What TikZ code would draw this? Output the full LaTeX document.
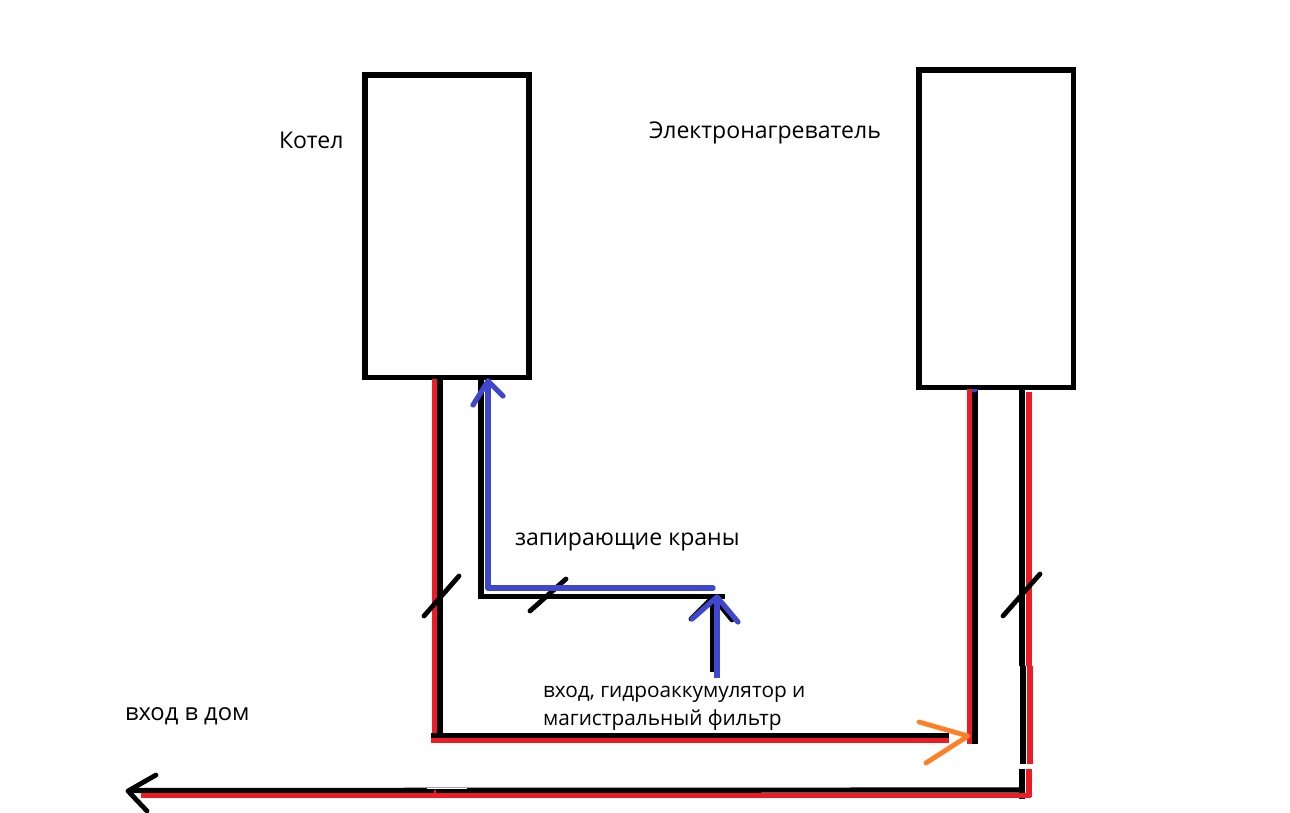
\documentclass[tikz,border=0pt]{standalone}
\usepackage{fontspec}
\setmainfont{Open Sans}
\definecolor{pred}{HTML}{ED1C24}
\definecolor{pblue}{HTML}{3F48CC}
\definecolor{porange}{HTML}{FF7F27}
\tikzset{
  x=0.75pt,y=-0.75pt,
  boxn/.style={draw=black,line width=3.9pt,fill=white,minimum width=0pt,inner sep=0pt,outer sep=0pt},
  blk/.style={draw=black,line width=3.9pt},
  redl/.style={draw=pred,line width=3.9pt},
  blu/.style={draw=pblue,line width=3.9pt,line cap=round,line join=round},
  org/.style={draw=porange,line width=3.6pt,line cap=round,line join=round},
  mark line/.style={draw=black,line width=3.6pt,line cap=round,line join=round},
  lbl/.style={anchor=west,inner sep=0pt,outer sep=0pt,font=\fontsize{17.3pt}{20pt}\selectfont,text=black},
  lblb/.style={anchor=west,inner sep=0pt,outer sep=0pt,font=\fontsize{15.6pt}{18pt}\selectfont,text=black}
}
\begin{document}
\begin{tikzpicture}
\useasboundingbox[fill=white] (0,0) rectangle (1290,813);
% boxes
\node[boxn,minimum width=123pt,minimum height=227pt,anchor=north west] (kotel) at (365,75) {};
\node[boxn,minimum width=116pt,minimum height=238pt,anchor=north west] (heater) at (919,70) {};
% labels
\node[lbl] (t1) at (279,140) {Котел};
\node[lbl] (t2) at (649,133) {Электронагреватель};
\node[lbl] (t3) at (515,542) {запирающие краны};
\node[lblb] (t4) at (543,694) {вход, гидроаккумулятор и};
\node[lblb] (t5) at (543,720) {магистральный фильтр};
\node[lbl,font=\fontsize{17.8pt}{20pt}\selectfont] (t6) at (125,716) {вход в дом};
% coordinates
\coordinate (a1) at (435,379); \coordinate (a2) at (435,742);
\coordinate (a3) at (440,379); \coordinate (a4) at (440,737);
\coordinate (h1) at (431,740.5); \coordinate (h2) at (949,740.5);
\coordinate (h3) at (431,735.5); \coordinate (h4) at (949,735.5);
\coordinate (b1) at (970.5,389); \coordinate (b2) at (970.5,744);
\coordinate (b3) at (975,389); \coordinate (b4) at (975,744);
\coordinate (c1) at (1022,389); \coordinate (c2) at (1022,666);
\coordinate (c3) at (1023,666); \coordinate (c4) at (1023,764);
\coordinate (c5) at (1022,769); \coordinate (c6) at (1022,799);
\coordinate (d1) at (1029,392); \coordinate (d2) at (1029,666);
\coordinate (d3) at (1030,666); \coordinate (d4) at (1030,764);
\coordinate (d5) at (1029,769); \coordinate (d6) at (1029,797);
\coordinate (e1) at (130,790.5); \coordinate (e2) at (1022,790);
\coordinate (f1) at (141,795.5); \coordinate (f2) at (1031,795.5);
\coordinate (k1) at (156,775); \coordinate (k2) at (128,791); \coordinate (k3) at (147,811);
\coordinate (g1) at (481,379); \coordinate (g2) at (481,596.5); \coordinate (g3) at (725,596.5);
\coordinate (s1) at (713,672); \coordinate (s2) at (713,597);
\coordinate (s3) at (691,619); \coordinate (s4) at (732,620);
\coordinate (u1) at (488,381); \coordinate (u2) at (488,588); \coordinate (u3) at (713,588);
\coordinate (u4) at (473,405); \coordinate (u5) at (503,396);
\coordinate (v1) at (717,678); \coordinate (v2) at (717,597);
\coordinate (v3) at (692,619); \coordinate (v4) at (738,622);
\coordinate (m1) at (424,616); \coordinate (m2) at (459,576);
\coordinate (m3) at (530,611); \coordinate (m4) at (566,579);
\coordinate (m5) at (1003,616); \coordinate (m6) at (1040,574);
\coordinate (o1) at (919,722); \coordinate (o2) at (968,736); \coordinate (o3) at (926,763);
% left pipe
\draw[redl] (a1) -- (a2);
\draw[blk] (a3) -- (a4);
% long horizontal
\draw[blk] (h3) -- (h4);
\draw[redl] (h1) -- (h2);
% heater pipes
\draw[redl,line width=4.6pt] (b1) -- (b2);
\draw[blk,line width=4.6pt] (b3) -- (b4);
\fill[pblue] (971,389) arc[start angle=180,end angle=0,radius=3.5] -- cycle;
% right pipe
\draw[blk] (c1) -- (c2);
\draw[blk] (c3) -- (c4);
\draw[blk] (c5) -- (c6);
% bottom
\draw[blk] (e1) -- (e2);
\draw[redl] (f1) -- (f2);
\draw[redl] (d1) -- (d2);
\draw[redl] (d3) -- (d4);
\draw[redl] (d5) -- (d6);
\draw[mark line] (k1) -- (k2) -- (k3);
\draw[draw=white,line width=0.6pt] (427,788.4) -- (467,788.4);
\draw[draw=pred,line width=1.5pt] (435,790) -- (435,794);
% valves
\draw[mark line] (m1) -- (m2);
\draw[mark line] (m3) -- (m4);
\draw[mark line] (m5) -- (m6);
% black cold pipe
\draw[blk,line join=miter] (g1) -- (g2) -- (g3);
\draw[blk,line width=4.4pt] (s1) -- (s2);
\draw[mark line] (s3) -- (s2) -- (s4);
% blue
\draw[blu] (u1) -- (u2) -- (u3);
\draw[blu] (u4) -- (u1) -- (u5);
\draw[blu,line cap=butt] (v1) -- (v2);
\draw[blu] (v3) -- (v2) -- (v4);
% orange
\draw[org] (o1) -- (o2) -- (o3);
\end{tikzpicture}
\end{document}
